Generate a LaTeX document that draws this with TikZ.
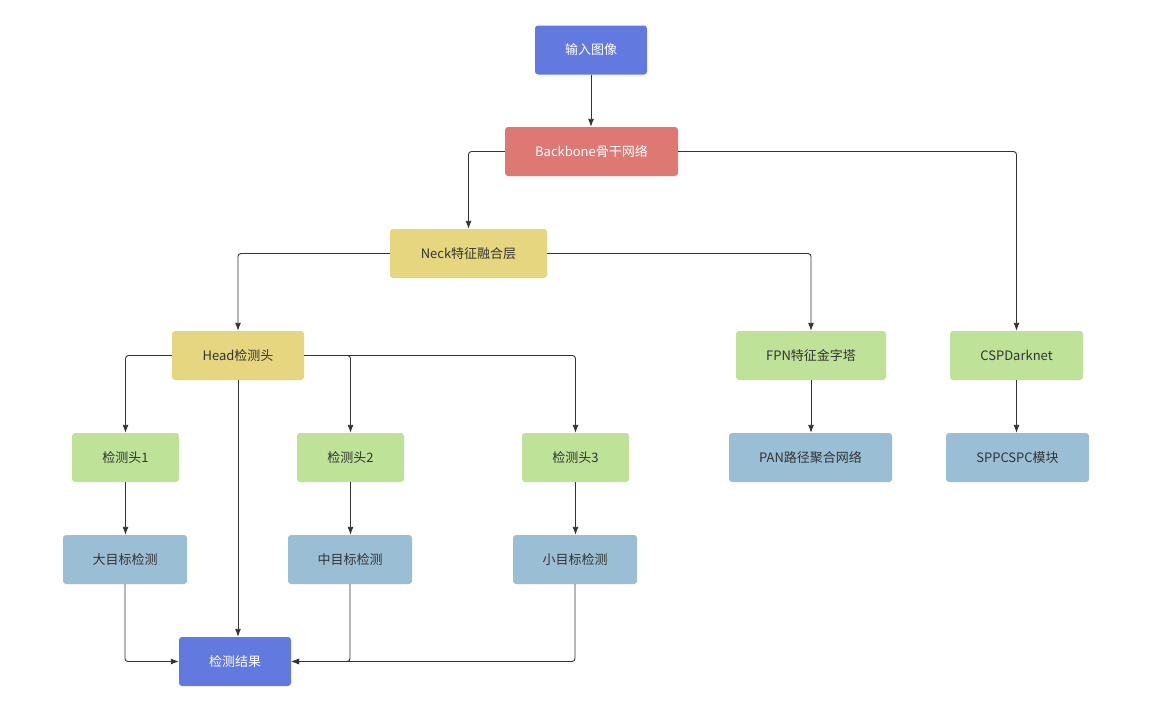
\documentclass[tikz,border=0pt]{standalone}
\usepackage{fontspec}
\setmainfont{Noto Sans CJK SC}
\usetikzlibrary{arrows.meta}
\definecolor{cblue}{HTML}{6279E0}
\definecolor{cred}{HTML}{DD7873}
\definecolor{cyellow}{HTML}{E6D67F}
\definecolor{cgreen}{HTML}{BEE398}
\definecolor{cgray}{HTML}{9ABFD4}
\definecolor{ctext}{HTML}{333333}
\definecolor{cline}{HTML}{333333}
\tikzset{
  box/.style={rounded corners=3pt, minimum height=49pt, inner sep=0pt, font=\fontsize{13}{15}\selectfont, text=ctext},
  bluebox/.style={box, fill=cblue, text=white},
  redbox/.style={box, fill=cred, text=white},
  yelbox/.style={box, fill=cyellow},
  grnbox/.style={box, fill=cgreen},
  grybox/.style={box, fill=cgray},
  arr/.style={draw=cline, line width=0.9pt, rounded corners=3pt, -{Latex[length=8pt,width=6pt]}},
}
\begin{document}
\begin{tikzpicture}[x=1pt,y=-1pt]
\useasboundingbox[fill=white] (0,0) rectangle (1158,723);
\node[bluebox, minimum width=112pt] (in) at (591,50) {输入图像};
\node[redbox, minimum width=173pt] (bb) at (591.5,151.5) {Backbone骨干网络};
\node[yelbox, minimum width=157pt] (neck) at (468.5,253.5) {Neck特征融合层};
\node[yelbox, minimum width=132pt] (head) at (238,355.5) {Head检测头};
\node[grnbox, minimum width=150pt] (fpn) at (811,355.5) {FPN特征金字塔};
\node[grnbox, minimum width=133pt] (csp) at (1016.5,355.5) {CSPDarknet};
\node[grnbox, minimum width=107pt] (h1) at (125.5,457.5) {检测头1};
\node[grnbox, minimum width=107pt] (h2) at (350.5,457.5) {检测头2};
\node[grnbox, minimum width=107pt] (h3) at (575.5,457.5) {检测头3};
\node[grybox, minimum width=163pt] (pan) at (810.5,457.5) {PAN路径聚合网络};
\node[grybox, minimum width=143pt] (spp) at (1017.5,457.5) {SPPCSPC模块};
\node[grybox, minimum width=124pt] (big) at (125,559.5) {大目标检测};
\node[grybox, minimum width=124pt] (mid) at (350,559.5) {中目标检测};
\node[grybox, minimum width=124pt] (small) at (575,559.5) {小目标检测};
\node[bluebox, minimum width=112pt] (res) at (235,661.5) {检测结果};

\draw[arr] (in.south) -- (in.south |- bb.north);
\draw[arr] (bb.west) -| (neck.north);
\draw[arr] (bb.east) -| (csp.north);
\draw[arr] (neck.west) -| (head.north);
\draw[arr] (neck.east) -| (fpn.north);
\draw[arr] (head.west) -| (h1.north);
\draw[arr] (head.east) -| (h2.north);
\draw[arr] (head.east) -| (h3.north);
\draw[arr] (head.south) -- (head.south |- res.north);
\draw[arr] (h1.south) -- (h1.south |- big.north);
\draw[arr] (h2.south) -- (h2.south |- mid.north);
\draw[arr] (h3.south) -- (h3.south |- small.north);
\draw[arr] (fpn.south) -- (fpn.south |- pan.north);
\draw[arr] (csp.south) -- (csp.south |- spp.north);
\draw[arr] (big.south) |- (res.west);
\draw[arr] (mid.south) |- (res.east);
\draw[arr] (small.south) |- (res.east);
\end{tikzpicture}
\end{document}
